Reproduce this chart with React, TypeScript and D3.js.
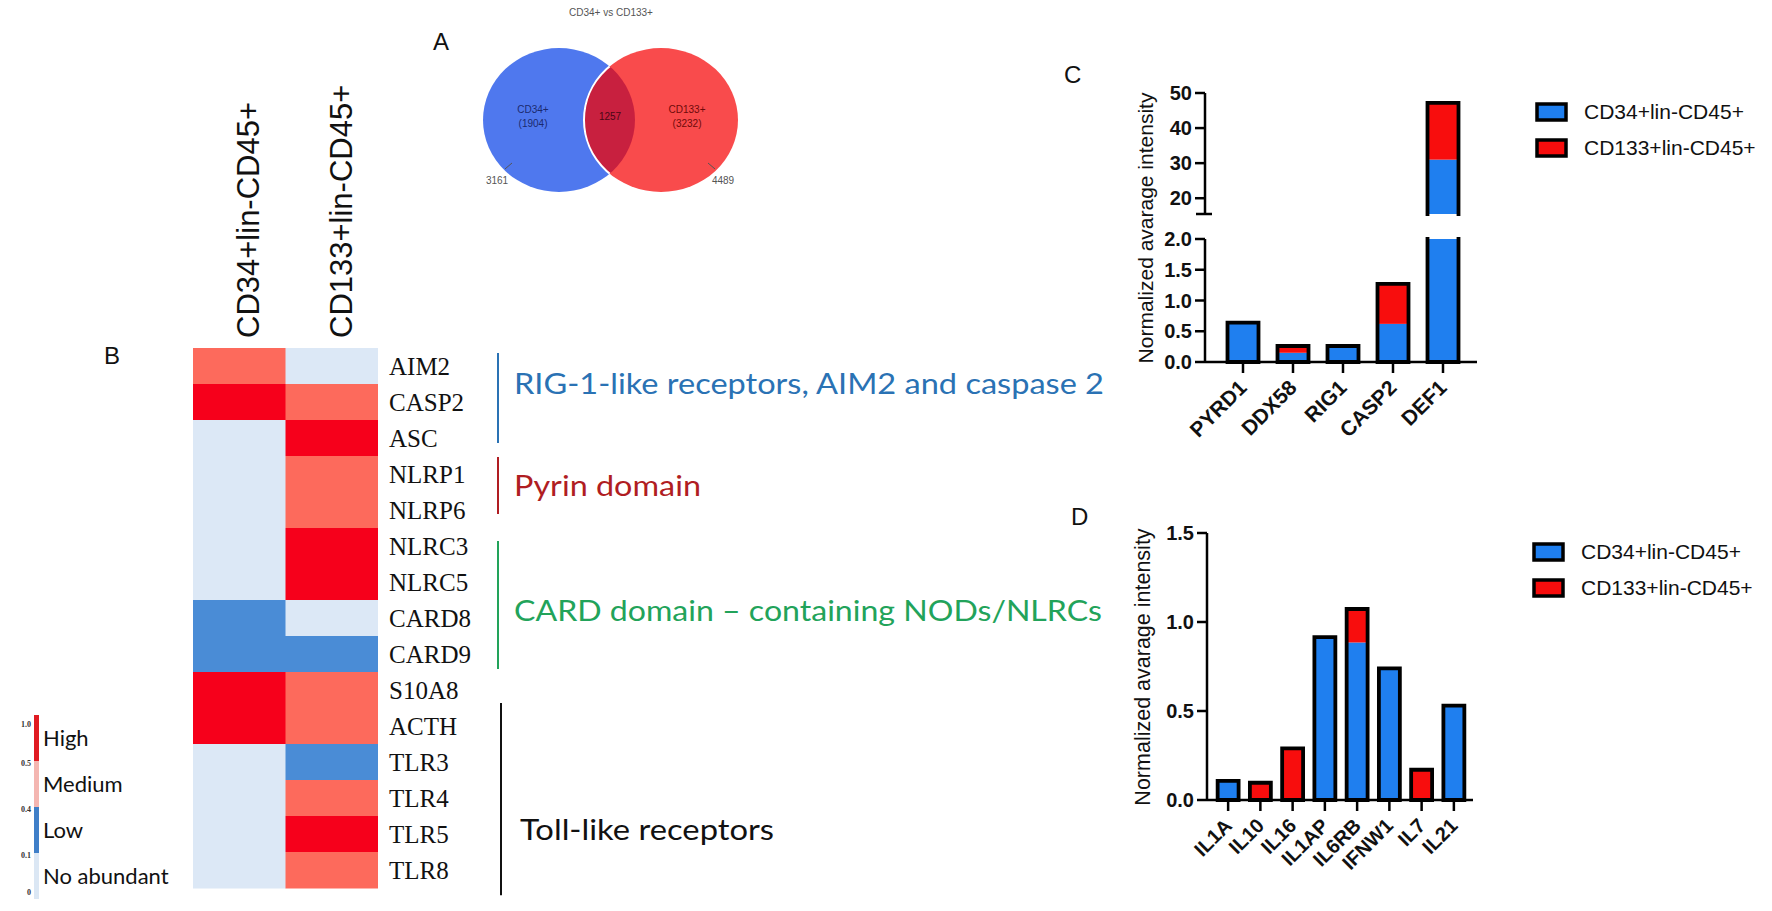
import React from 'react';
import * as d3 from 'd3';

// ---------- DATA ----------
const vennTitle = 'CD34+ vs CD133+';
const vennSets = ['CD34+', 'CD133+'];
const vennOnly = [1904, 3232];
const vennShared = 1257;
const vennTotals = [3161, 4489];

const heatGenes = ['AIM2', 'CASP2', 'ASC', 'NLRP1', 'NLRP6', 'NLRC3', 'NLRC5', 'CARD8', 'CARD9', 'S10A8', 'ACTH', 'TLR3', 'TLR4', 'TLR5', 'TLR8'];
const heatColumns = ['CD34+lin-CD45+', 'CD133+lin-CD45+'];
const heatCD34 = [0.45, 0.9, 0.05, 0.05, 0.05, 0.05, 0.05, 0.25, 0.25, 0.9, 0.9, 0.05, 0.05, 0.05, 0.05];
const heatCD133 = [0.05, 0.45, 0.9, 0.45, 0.45, 0.9, 0.9, 0.05, 0.25, 0.45, 0.45, 0.25, 0.45, 0.9, 0.45];
const levelBreaks = [0.1, 0.4, 0.5];
const levelTicks = ['0', '0.1', '0.4', '0.5', '1.0'];
const levelLabels = ['No abundant', 'Low', 'Medium', 'High'];

const groupLabels = ['RIG-1-like receptors, AIM2 and caspase 2', 'Pyrin domain', 'CARD domain \u2013 containing NODs/NLRCs', 'Toll-like receptors'];

const cGenes = ['PYRD1', 'DDX58', 'RIG1', 'CASP2', 'DEF1'];
const cCD34 = [0.64, 0.15, 0.26, 0.62, 31];
const cCD133 = [0, 0.11, 0, 0.65, 16.2];
const cLowTicks = [0, 0.5, 1, 1.5, 2];
const cHighTicks = [20, 30, 40, 50];

const dGenes = ['IL1A', 'IL10', 'IL16', 'IL1AP', 'IL6RB', 'IFNW1', 'IL7', 'IL21'];
const dCD34 = [0.107, 0, 0, 0.915, 0.885, 0.74, 0, 0.53];
const dCD133 = [0, 0.097, 0.29, 0, 0.188, 0, 0.17, 0];
const dTicks = [0, 0.5, 1, 1.5];

const seriesNames = ['CD34+lin-CD45+', 'CD133+lin-CD45+'];
const yTitle = 'Normalized avarage intensity';

// ---------- STYLE ----------
const sans = "'Liberation Sans', Arial, Helvetica, sans-serif";
const serif = "'Liberation Serif', 'Times New Roman', serif";
const soft = "Lato, 'Open Sans', sans-serif";
const BLUE = '#1f7fef';
const RED = '#f80d0d';
const heatColor = d3.scaleThreshold<number, string>().domain(levelBreaks).range(['#dce8f6', '#4a8cd6', '#fd6a5c', '#f6001b']);
const legendColors = ['#dbe7f4', '#3f7fc8', '#f4b6b1', '#e01b22'];
const groupColors = ['#2a72b4', '#b01d22', '#22a35a', '#111111'];
// group bracket spans in row units [start, end, textCenter]
const groupSpans = [[0.14, 2.64, 1.0], [3.03, 4.61, 3.83], [5.36, 8.92, 7.3], [9.86, 15.2, 13.4]];
const groupTextLen = [590, 187, 588, 254];

function StackBar({ x, w, b, r, lo, hi, y }: any) {
  const total = b + r;
  const vLo = Math.max(0, lo);
  const vHi = Math.min(total, hi);
  if (vHi <= vLo) return null;
  const els: any[] = [];
  if (b > lo) {
    const top = Math.min(b, hi);
    els.push(<rect key="b" x={x} y={y(top)} width={w} height={y(vLo) - y(top)} fill={BLUE} />);
  }
  const rs = Math.max(b, lo);
  if (r > 0 && total > rs) {
    const top = Math.min(total, hi);
    els.push(<rect key="r" x={x} y={y(top)} width={w} height={y(rs) - y(top)} fill={RED} />);
  }
  const yb = y(vLo), yt = y(vHi);
  let d = `M${x},${yb}L${x},${yt}`;
  if (total <= hi) d += `L${x + w},${yt}`; else d += `M${x + w},${yt}`;
  d += `L${x + w},${yb}`;
  if (lo <= 0) d += `L${x},${yb}`;
  els.push(<path key="o" d={d} fill="none" stroke="#000" strokeWidth={3.8} strokeLinejoin="miter" strokeLinecap="square" />);
  return <g>{els}</g>;
}

function Legend({ x, y0, gap }: any) {
  return (
    <g>
      {seriesNames.map((s, i) => (
        <g key={s}>
          <rect x={x} y={y0 + i * gap - 8} width={29} height={16} fill={i === 0 ? BLUE : RED} stroke="#000" strokeWidth={3.5} />
          <text x={x + 47} y={y0 + i * gap + 1} dominantBaseline="middle" fontFamily={sans} fontSize={21} fill="#111">{s}</text>
        </g>
      ))}
    </g>
  );
}

export default function App() {
  const W = 1772, H = 911;

  // ----- Venn -----
  const blueC = { x: 559, y: 120, rx: 76, ry: 72 };
  const redC = { x: 661, y: 120, rx: 77, ry: 72 };

  // ----- Heatmap -----
  const hy = d3.scaleBand<string>().domain(heatGenes).range([348, 888]);
  const hx = d3.scaleBand<string>().domain(heatColumns).range([193, 378]);
  const rowUnit = d3.scaleLinear().domain([0, heatGenes.length]).range([348, 888]);
  const lg = d3.scalePoint<string>().domain(levelTicks).range([899, 715]);

  // ----- Chart C -----
  const cx = d3.scaleBand<string>().domain(cGenes).range([1218, 1468]).paddingInner(0.38).paddingOuter(0.19);
  const yLow = d3.scaleLinear().domain([0, 2]).range([362, 239]);
  const yHigh = d3.scaleLinear().domain([15.5, 50]).range([214, 93]);
  const cAxisX = 1205;

  // ----- Chart D -----
  const dx = d3.scaleBand<string>().domain(dGenes).range([1212, 1470]).paddingInner(0.35).paddingOuter(0.175);
  const dy = d3.scaleLinear().domain([0, 1.5]).range([800, 533]);
  const dAxisX = 1207;

  const tickFont = { fontFamily: sans, fontSize: 20, fontWeight: 700, fill: '#111' } as any;

  return (
    <svg width={W} height={H} style={{ position: 'absolute', left: 0, top: 0, background: '#fff' }}>
      <rect width={W} height={H} fill="#fff" />
      <defs>
        <clipPath id="clipBlue"><ellipse cx={blueC.x} cy={blueC.y} rx={blueC.rx} ry={blueC.ry} /></clipPath>
      </defs>

      {/* ===== A: Venn ===== */}
      <text x={433} y={50} fontFamily={sans} fontSize={24} fill="#111">A</text>
      <text x={611} y={16} textAnchor="middle" fontFamily={sans} fontSize={10} fill="#555">{vennTitle}</text>
      <ellipse cx={blueC.x} cy={blueC.y} rx={blueC.rx} ry={blueC.ry} fill="#4f78ee" />
      <ellipse cx={redC.x} cy={redC.y} rx={redC.rx} ry={redC.ry} fill="#f94b4c" />
      <ellipse cx={redC.x} cy={redC.y} rx={redC.rx} ry={redC.ry} fill="#c8203f" clipPath="url(#clipBlue)" />
      <ellipse cx={redC.x} cy={redC.y} rx={redC.rx} ry={redC.ry} fill="none" stroke="#fff" strokeWidth={2} clipPath="url(#clipBlue)" />
      <text x={533} y={113} textAnchor="middle" fontFamily={sans} fontSize={10} fill="#1b2a6e">{vennSets[0]}</text>
      <text x={533} y={127} textAnchor="middle" fontFamily={sans} fontSize={10} fill="#1b2a6e">({vennOnly[0]})</text>
      <text x={610} y={120} textAnchor="middle" fontFamily={sans} fontSize={10} fill="#4a0716">{vennShared}</text>
      <text x={687} y={113} textAnchor="middle" fontFamily={sans} fontSize={10} fill="#6e0a0a">{vennSets[1]}</text>
      <text x={687} y={127} textAnchor="middle" fontFamily={sans} fontSize={10} fill="#6e0a0a">({vennOnly[1]})</text>
      <line x1={505} y1={169} x2={512} y2={163} stroke="#555" strokeWidth={1} />
      <line x1={715} y1={169} x2={708} y2={163} stroke="#555" strokeWidth={1} />
      <text x={497} y={184} textAnchor="middle" fontFamily={sans} fontSize={10} fill="#555">{vennTotals[0]}</text>
      <text x={723} y={184} textAnchor="middle" fontFamily={sans} fontSize={10} fill="#555">{vennTotals[1]}</text>

      {/* ===== B: Heatmap ===== */}
      <text x={104} y={364} fontFamily={sans} fontSize={24} fill="#111">B</text>
      {heatColumns.map((c) => (
        <text key={c} transform={`translate(${hx(c)! + hx.bandwidth() / 2 + 20},338) rotate(-90)`} fontFamily={sans} fontSize={31} fill="#111">{c}</text>
      ))}
      {heatGenes.map((g, gi) => (
        <g key={g}>
          <rect x={hx(heatColumns[0])} y={hy(g)} width={hx.bandwidth() + 0.5} height={hy.bandwidth() + 0.5} fill={heatColor(heatCD34[gi])} />
          <rect x={hx(heatColumns[1])} y={hy(g)} width={hx.bandwidth()} height={hy.bandwidth() + 0.5} fill={heatColor(heatCD133[gi])} />
          <text x={389} y={hy(g)! + hy.bandwidth() / 2 + 9} fontFamily={serif} fontSize={25} fill="#111">{g}</text>
        </g>
      ))}

      {/* group brackets */}
      {groupLabels.map((t, i) => (
        <g key={t}>
          <line x1={i === 3 ? 501 : 498} x2={i === 3 ? 501 : 498} y1={rowUnit(groupSpans[i][0])} y2={rowUnit(groupSpans[i][1])} stroke={groupColors[i]} strokeWidth={2} />
          <text x={i === 3 ? 520 : 514} y={rowUnit(groupSpans[i][2]) + 10} fontFamily={soft} fontSize={28} fill={groupColors[i]} textLength={groupTextLen[i]} lengthAdjust="spacingAndGlyphs">{t}</text>
        </g>
      ))}

      {/* level legend */}
      {levelLabels.map((l, i) => {
        const y0 = lg(levelTicks[i])!, y1 = lg(levelTicks[i + 1])!;
        return (
          <g key={l}>
            <rect x={34} y={y1} width={5} height={y0 - y1} fill={legendColors[i]} />
            <text x={43} y={(y0 + y1) / 2 + 8} fontFamily={soft} fontSize={22} fill="#111">{l}</text>
          </g>
        );
      })}
      {levelTicks.map((t, i) => (
        <text key={t} x={31} y={lg(t)! + (i === 4 ? 12 : i === 0 ? -4 : 5)} textAnchor="end" fontFamily={serif} fontWeight={700} fontSize={8} fill="#333">{t}</text>
      ))}

      {/* ===== C ===== */}
      <text x={1064} y={83} fontFamily={sans} fontSize={24} fill="#111">C</text>
      <text transform={`translate(1153,228) rotate(-90)`} textAnchor="middle" fontFamily={sans} fontSize={21} fill="#111">{yTitle}</text>
      {cGenes.map((g, i) => (
        <g key={g}>
          <StackBar x={cx(g)} w={cx.bandwidth()} b={cCD34[i]} r={cCD133[i]} lo={0} hi={2} y={yLow} />
          <StackBar x={cx(g)} w={cx.bandwidth()} b={cCD34[i]} r={cCD133[i]} lo={15.5} hi={50} y={yHigh} />
        </g>
      ))}
      {/* lower axis */}
      <line x1={cAxisX} x2={cAxisX} y1={yLow(2)} y2={yLow(0)} stroke="#000" strokeWidth={2.5} />
      {cLowTicks.map(t => (
        <g key={t}>
          <line x1={cAxisX - 10} x2={cAxisX} y1={yLow(t)} y2={yLow(t)} stroke="#000" strokeWidth={2.5} />
          <text x={cAxisX - 13} y={yLow(t) + 7} textAnchor="end" {...tickFont}>{d3.format('.1f')(t)}</text>
        </g>
      ))}
      {/* upper axis */}
      <line x1={cAxisX} x2={cAxisX} y1={yHigh(50)} y2={yHigh(15.5)} stroke="#000" strokeWidth={2.5} />
      <line x1={cAxisX - 9} x2={cAxisX + 7} y1={yHigh(15.5)} y2={yHigh(15.5)} stroke="#000" strokeWidth={2.5} />
      {cHighTicks.map(t => (
        <g key={t}>
          <line x1={cAxisX - 10} x2={cAxisX} y1={yHigh(t)} y2={yHigh(t)} stroke="#000" strokeWidth={2.5} />
          <text x={cAxisX - 13} y={yHigh(t) + 7} textAnchor="end" {...tickFont}>{t}</text>
        </g>
      ))}
      {/* x axis */}
      <line x1={cAxisX} x2={1477} y1={yLow(0)} y2={yLow(0)} stroke="#000" strokeWidth={2.5} />
      {cGenes.map(g => {
        const xc = cx(g)! + cx.bandwidth() / 2;
        return (
          <g key={g}>
            <line x1={xc} x2={xc} y1={yLow(0)} y2={yLow(0) + 11} stroke="#000" strokeWidth={2.5} />
            <text transform={`translate(${xc + 5},${yLow(0) + 27}) rotate(-45)`} textAnchor="end" fontFamily={sans} fontWeight={700} fontSize={21} fill="#111">{g}</text>
          </g>
        );
      })}
      <Legend x={1537} y0={112} gap={36} />

      {/* ===== D ===== */}
      <text x={1071} y={525} fontFamily={sans} fontSize={24} fill="#111">D</text>
      <text transform={`translate(1150,667) rotate(-90)`} textAnchor="middle" fontFamily={sans} fontSize={21.5} fill="#111">{yTitle}</text>
      {dGenes.map((g, i) => (
        <StackBar key={g} x={dx(g)} w={dx.bandwidth()} b={dCD34[i]} r={dCD133[i]} lo={0} hi={1.5} y={dy} />
      ))}
      <line x1={dAxisX} x2={dAxisX} y1={dy(1.5)} y2={dy(0)} stroke="#000" strokeWidth={2.5} />
      {dTicks.map(t => (
        <g key={t}>
          <line x1={dAxisX - 10} x2={dAxisX} y1={dy(t)} y2={dy(t)} stroke="#000" strokeWidth={2.5} />
          <text x={dAxisX - 13} y={dy(t) + 7} textAnchor="end" {...tickFont}>{d3.format('.1f')(t)}</text>
        </g>
      ))}
      <line x1={dAxisX} x2={1473} y1={dy(0)} y2={dy(0)} stroke="#000" strokeWidth={2.5} />
      {dGenes.map(g => {
        const xc = dx(g)! + dx.bandwidth() / 2;
        return (
          <g key={g}>
            <line x1={xc} x2={xc} y1={dy(0)} y2={dy(0) + 11} stroke="#000" strokeWidth={2.5} />
            <text transform={`translate(${xc + 5},${dy(0) + 27}) rotate(-45)`} textAnchor="end" fontFamily={sans} fontWeight={700} fontSize={20} fill="#111">{g}</text>
          </g>
        );
      })}
      <Legend x={1534} y0={552} gap={36} />
    </svg>
  );
}
